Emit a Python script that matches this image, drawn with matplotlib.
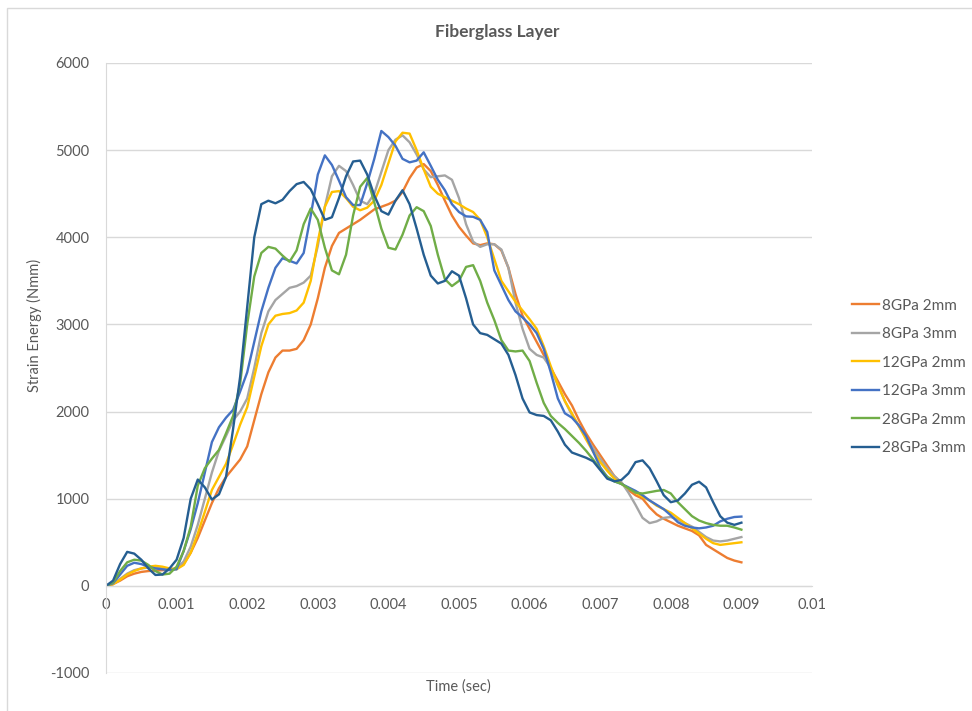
"""Fiberglass Layer: strain energy vs time for six stiffness/thickness cases."""

import numpy as np
import matplotlib
matplotlib.use("Agg")
import matplotlib.pyplot as plt
from matplotlib.patches import Rectangle

# time in seconds, one sample every 0.0001 s
time_sec = np.arange(91) * 0.0001

e_8gpa_2mm = [
    0, 20, 60, 110, 140, 160, 170, 175, 180, 185,
    200, 250, 380, 550, 750, 950, 1120, 1250, 1350, 1450,
    1600, 1900, 2200, 2450, 2620, 2700, 2700, 2720, 2820, 3000,
    3300, 3650, 3900, 4050, 4100, 4150, 4200, 4260, 4320, 4350,
    4380, 4420, 4520, 4680, 4800, 4840, 4760, 4600, 4420, 4250,
    4120, 4020, 3930, 3910, 3930, 3920, 3850, 3650, 3350, 3100,
    2950, 2800, 2650, 2500, 2350, 2200, 2070, 1900, 1750, 1620,
    1500, 1380, 1260, 1180, 1100, 1040, 1000, 900, 820, 770,
    730, 690, 660, 630, 580, 470, 420, 370, 320, 290,
    270,
]
e_8gpa_3mm = [
    0, 20, 80, 140, 180, 200, 210, 210, 200, 190,
    200, 280, 450, 700, 1000, 1300, 1550, 1720, 1900, 2000,
    2150, 2500, 2900, 3150, 3280, 3350, 3420, 3440, 3480, 3560,
    3900, 4350, 4700, 4820, 4760, 4600, 4420, 4380, 4500, 4750,
    5000, 5120, 5170, 5090, 4950, 4780, 4690, 4700, 4710, 4660,
    4450, 4150, 3950, 3890, 3920, 3920, 3860, 3650, 3250, 2950,
    2720, 2650, 2620, 2500, 2300, 2120, 1960, 1830, 1700, 1580,
    1460, 1350, 1260, 1190, 1070, 930, 780, 720, 740, 780,
    790, 760, 720, 680, 620, 560, 520, 510, 520, 540,
    560,
]
e_12gpa_2mm = [
    0, 20, 70, 130, 170, 200, 220, 230, 220, 200,
    190, 240, 380, 600, 850, 1100, 1250, 1400, 1620, 1850,
    2050, 2400, 2750, 3000, 3100, 3120, 3130, 3160, 3250, 3500,
    3950, 4350, 4520, 4530, 4450, 4350, 4310, 4340, 4420, 4600,
    4850, 5100, 5200, 5190, 5000, 4780, 4580, 4500, 4460, 4420,
    4380, 4330, 4290, 4200, 4000, 3750, 3500, 3380, 3260, 3160,
    3060, 2950, 2750, 2520, 2310, 2120, 1980, 1830, 1680, 1540,
    1420, 1320, 1230, 1170, 1120, 1070, 1020, 980, 920, 880,
    840, 780, 720, 660, 600, 540, 490, 470, 480, 490,
    500,
]
e_12gpa_3mm = [
    0, 30, 130, 230, 265, 250, 220, 200, 190, 180,
    190, 400, 650, 950, 1300, 1650, 1820, 1930, 2020, 2230,
    2450, 2800, 3150, 3420, 3650, 3760, 3730, 3700, 3820, 4250,
    4720, 4940, 4830, 4650, 4460, 4370, 4370, 4620, 4900, 5220,
    5150, 5050, 4900, 4860, 4880, 4975, 4820, 4660, 4540, 4380,
    4290, 4240, 4235, 4200, 4060, 3620, 3450, 3280, 3150, 3080,
    3000, 2900, 2720, 2450, 2150, 1980, 1930, 1840, 1720, 1540,
    1360, 1250, 1200, 1170, 1130, 1090, 1040, 980, 930, 880,
    810, 730, 690, 670, 660, 670, 690, 740, 770, 790,
    795,
]
e_28gpa_2mm = [
    0, 40, 170, 270, 300, 290, 240, 170, 130, 140,
    220, 400, 680, 1150, 1350, 1460, 1560, 1750, 1950, 2320,
    3000, 3550, 3820, 3890, 3870, 3790, 3720, 3850, 4150, 4330,
    4200, 3880, 3620, 3575, 3800, 4250, 4580, 4680, 4400, 4100,
    3880, 3860, 4030, 4250, 4345, 4300, 4130, 3800, 3520, 3440,
    3500, 3660, 3680, 3500, 3250, 3050, 2820, 2700, 2690, 2700,
    2580, 2330, 2100, 1950, 1870, 1800, 1720, 1640, 1550, 1450,
    1340, 1250, 1200, 1170, 1120, 1070, 1060, 1075, 1090, 1100,
    1060, 960, 880, 800, 750, 720, 700, 690, 690, 670,
    645,
]
e_28gpa_3mm = [
    0, 60, 250, 390, 370, 300, 200, 125, 130, 200,
    300, 550, 1000, 1220, 1130, 990, 1050, 1250, 1800, 2400,
    3200, 4000, 4380, 4420, 4390, 4430, 4530, 4610, 4635, 4550,
    4380, 4200, 4230, 4450, 4700, 4870, 4880, 4720, 4480, 4300,
    4260, 4420, 4540, 4380, 4100, 3800, 3560, 3470, 3500, 3610,
    3560, 3300, 3000, 2900, 2880, 2830, 2780, 2650, 2420, 2150,
    1990, 1960, 1950, 1900, 1770, 1620, 1530, 1500, 1470, 1430,
    1330, 1230, 1200, 1215, 1290, 1420, 1440, 1350, 1200, 1040,
    960, 980, 1060, 1160, 1195, 1130, 960, 800, 725, 700,
    725,
]

series = [
    ("8GPa 2mm", e_8gpa_2mm, "#ED7D31"),
    ("8GPa 3mm", e_8gpa_3mm, "#A5A5A5"),
    ("12GPa 2mm", e_12gpa_2mm, "#FFC000"),
    ("12GPa 3mm", e_12gpa_3mm, "#4472C4"),
    ("28GPa 2mm", e_28gpa_2mm, "#70AD47"),
    ("28GPa 3mm", e_28gpa_3mm, "#255E91"),
]

plt.rcParams["font.family"] = ["Lato", "DejaVu Sans"]
plt.rcParams["axes.unicode_minus"] = False
text_grey = "#595959"
grid_grey = "#D9D9D9"

fig = plt.figure(figsize=(9.72, 7.11), dpi=100)
ax = fig.add_axes([106 / 972, 1 - 673 / 711, 706 / 972, 610 / 711])

for name, values, colour in series:
    ax.plot(time_sec, values, color=colour, lw=1.7, label=name,
            solid_joinstyle="round")

ax.set_xlim(0, 0.01)
ax.set_ylim(-1000, 6000)
ax.set_xticks(np.arange(0, 0.0101, 0.001))
ax.set_xticklabels(["0"] + [f"{v:.3f}" for v in np.arange(0.001, 0.0096, 0.001)]
                   + ["0.01"])
ax.set_yticks(range(-1000, 6001, 1000))
ax.yaxis.grid(True, color=grid_grey, lw=1)
ax.set_axisbelow(True)

for side in ("top", "right"):
    ax.spines[side].set_visible(False)
ax.spines["left"].set_color(grid_grey)
ax.spines["bottom"].set_color(grid_grey)
ax.spines["bottom"].set_position(("data", 0))
ax.tick_params(length=0, labelsize=10.5, labelcolor=text_grey)
ax.tick_params(axis="x", pad=9)
ax.tick_params(axis="y", pad=12)

fig.text(0.5115, 1 - 32 / 711, "Fiberglass Layer", ha="center", va="center",
         fontsize=12.5, fontweight="bold", color=text_grey)
fig.text(34 / 972, 1 - 325 / 711, "Strain Energy (Nmm)", ha="center",
         va="center", rotation=90, fontsize=10.5, color=text_grey)
fig.text(458 / 972, 1 - 687 / 711, "Time (sec)", ha="center", va="center",
         fontsize=10.5, color=text_grey)

fig.legend(loc="center left", bbox_to_anchor=(838 / 972, 1 - 377 / 711),
           frameon=False, fontsize=11, labelcolor=text_grey,
           handlelength=1.8, handletextpad=0.15, labelspacing=0.95)

# light border around the chart area, as in the spreadsheet export
fig.patches.append(Rectangle((7 / 972, -0.01), 1.0, 1 - 8 / 711 + 0.01,
                             transform=fig.transFigure, fill=False,
                             edgecolor=grid_grey, lw=1))

fig.savefig("out.png", dpi=100)
